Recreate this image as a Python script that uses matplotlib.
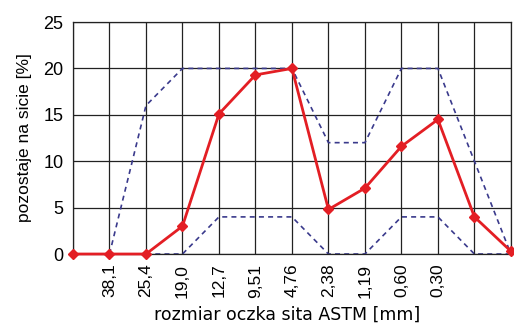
import matplotlib
matplotlib.use("Agg")
import matplotlib.pyplot as plt

plt.rcParams['font.family'] = ['Liberation Sans', 'DejaVu Sans']

sieve_labels = ['', '38,1', '25,4', '19,0', '12,7', '9,51', '4,76',
                '2,38', '1,19', '0,60', '0,30', '', '']
retained = [0, 0, 0, 3, 15.1, 19.3, 20, 4.8, 7.1, 11.6, 14.5, 4, 0.3]
upper_x = list(range(1, 13))
upper = [0, 16, 20, 20, 20, 20, 12, 12, 20, 20, 10, 0]
lower_x = list(range(1, 13))
lower = [0, 0, 0, 4, 4, 4, 0, 0, 4, 4, 0, 0]

x = list(range(len(retained)))

fig = plt.figure(figsize=(5.14, 3.24), dpi=100)
ax = fig.add_axes([0.142, 0.216, 0.852, 0.716])

ax.plot(upper_x, upper, color='#3a3a8c', lw=1.2, ls=(0, (3, 2.5)), zorder=3)
ax.plot(lower_x, lower, color='#3a3a8c', lw=1.2, ls=(0, (3, 2.5)), zorder=3)
ax.plot(x, retained, color='#e31e24', lw=2, marker='D', ms=5.5, zorder=6,
        clip_on=False)

ax.set_xlim(0, 12)
ax.set_ylim(0, 25)
ax.set_yticks([0, 5, 10, 15, 20, 25])
ax.set_xticks(x)
ax.set_xticklabels(sieve_labels, rotation=90, fontsize=12.5)
ax.tick_params(axis='both', length=0, pad=7)
ax.tick_params(axis='y', labelsize=13)
ax.grid(True, color='#222222', lw=0.9)
ax.set_axisbelow(True)
for s in ax.spines.values():
    s.set_color('#222222')
    s.set_linewidth(0.9)
    s.set_zorder(5)

ax.set_ylabel('pozostaje na sicie [%]', fontsize=12.5, labelpad=8)
ax.set_xlabel('rozmiar oczka sita ASTM [mm]', fontsize=12.5, va='center',
              family='DejaVu Sans')
ax.xaxis.set_label_coords(0.49, -0.262)

fig.savefig('out.png', dpi=100)
